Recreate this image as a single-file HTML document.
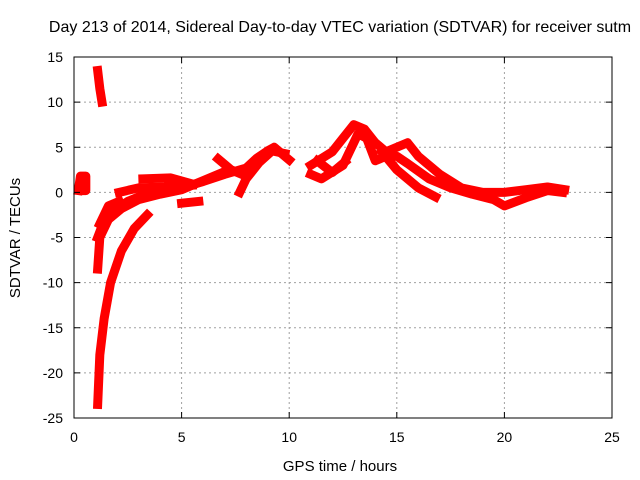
<!DOCTYPE html>
<html><head><meta charset="utf-8"><style>
body{margin:0;background:#fff}
svg{display:block;font-family:"Liberation Sans",sans-serif}
</style></head><body>
<svg id="chart" width="640" height="480">
<rect width="640" height="480" fill="#fff"/>
<g id="grid"></g>
<g id="series"></g>
<rect x="74" y="57" width="538" height="361" fill="none" stroke="#000" stroke-width="1"/>
<g id="ticks"></g>
<text x="340" y="32" text-anchor="middle" font-size="16">Day 213 of 2014, Sidereal Day-to-day VTEC variation (SDTVAR) for receiver sutm</text>
<text x="340" y="471" text-anchor="middle" font-size="15">GPS time / hours</text>
<text transform="translate(20,238) rotate(-90)" text-anchor="middle" font-size="15">SDTVAR / TECUs</text>
</svg>
<script>
const xTicks=[0,5,10,15,20,25];
const yTicks=[15,10,5,0,-5,-10,-15,-20,-25];
const trackA=[[0.2,0.2],[0.3,1.8],[0.55,1.8],[0.55,0.2],[0.3,0.2],[0.3,1.0],[0.5,1.0]];
const trackB=[[1.1,13.5],[1.2,11.5],[1.3,10]];
const trackC=[[1.1,-23.5],[1.2,-18],[1.4,-14],[1.7,-10],[2.2,-6.5],[2.8,-4],[3.4,-2.5]];
const trackD=[[1.1,-8.5],[1.2,-5],[1.6,-3],[2.2,-1.8],[3,-0.8],[4,-0.2],[5,0.3],[6,1.3],[7,2.3]];
const trackE=[[1.1,-5],[1.5,-2.5],[2.5,-1],[3.5,0],[5,0.5],[6,1.2],[7,2],[8,2.7],[8.5,3.8],[9,4.6],[9.3,5],[9.8,4],[10,3.6]];
const trackF=[[1.2,-3.5],[1.6,-1.5],[2.1,-1]];
const trackG=[[2.1,0],[3,0.5],[4.2,0.6],[5.5,0.8]];
const trackH=[[3.2,1.5],[4.5,1.6],[5.4,1]];
const trackI=[[5,-1.2],[5.8,-1]];
const trackJ=[[7.7,0],[8,1.5],[8.6,3.3],[9.2,4.6],[9.8,4.3]];
const trackK=[[6.7,3.7],[7.3,2.5],[7.8,2]];
const trackL=[[11,3],[12,4.5],[12.5,6],[13,7.5],[13.5,7],[14,5.5],[14.5,4.5],[15,5],[15.5,5.5],[16,4],[17,2],[18,0.5],[19,0],[20,0],[21,0.3],[22,0.6],[22.8,0.3]];
const trackM=[[11,2],[11.5,1.5],[12.5,3],[13.2,6.5],[13.6,6],[14,3.5],[14.5,4],[15,4],[15.5,3.2],[16.5,1.5],[17.5,0.5],[18.5,-0.2],[19.5,-0.8],[20,-1.5],[21,-0.6],[22,0.2],[22.7,0]];
const trackN=[[14.3,4.5],[15,2.5],[16,0.5],[16.8,-0.5]];
const trackO=[[11.3,3.5],[12,2.2],[12.6,3.4]];
const tracks=[trackA,trackB,trackC,trackD,trackE,trackF,trackG,trackH,trackI,trackJ,trackK,trackL,trackM,trackN,trackO];
const NS='http://www.w3.org/2000/svg';
const X=t=>74+t*(538/25);
const Y=v=>418-(v+25)*(361/40);
const grid=document.getElementById('grid'),ticks=document.getElementById('ticks'),series=document.getElementById('series');
function mk(tag,attrs,parent){const e=document.createElementNS(NS,tag);for(const k in attrs)e.setAttribute(k,attrs[k]);parent.appendChild(e);return e;}
xTicks.forEach(t=>{const x=X(t);
 if(t>0&&t<25){const g=mk('line',{x1:x,x2:x,y1:57,y2:418,stroke:'#a0a0a0','stroke-dasharray':'2,3'},grid);
 
 }
 mk('line',{x1:x,x2:x,y1:418,y2:412,stroke:'#000'},ticks);mk('line',{x1:x,x2:x,y1:57,y2:63,stroke:'#000'},ticks);
 const l=mk('text',{x:x,y:442,'text-anchor':'middle','font-size':'14'},ticks);l.textContent=t;
 
 });
yTicks.forEach(v=>{const y=Y(v);
 if(v<15&&v>-25){const g=mk('line',{x1:74,x2:612,y1:y,y2:y,stroke:'#a0a0a0','stroke-dasharray':'2,3'},grid);
 
 }
 mk('line',{x1:74,x2:80,y1:y,y2:y,stroke:'#000'},ticks);mk('line',{x1:612,x2:606,y1:y,y2:y,stroke:'#000'},ticks);
 const l=mk('text',{x:63,y:y+5,'text-anchor':'end','font-size':'14'},ticks);l.textContent=v;
 
 });
tracks.forEach(tr=>{const p=mk('polyline',{points:tr.map(d=>X(d[0])+','+Y(d[1])).join(' '),fill:'none',stroke:'#ff0000','stroke-width':'9','stroke-linejoin':'round','stroke-linecap':'square'},series);
 
 });
</script>
</body></html>
